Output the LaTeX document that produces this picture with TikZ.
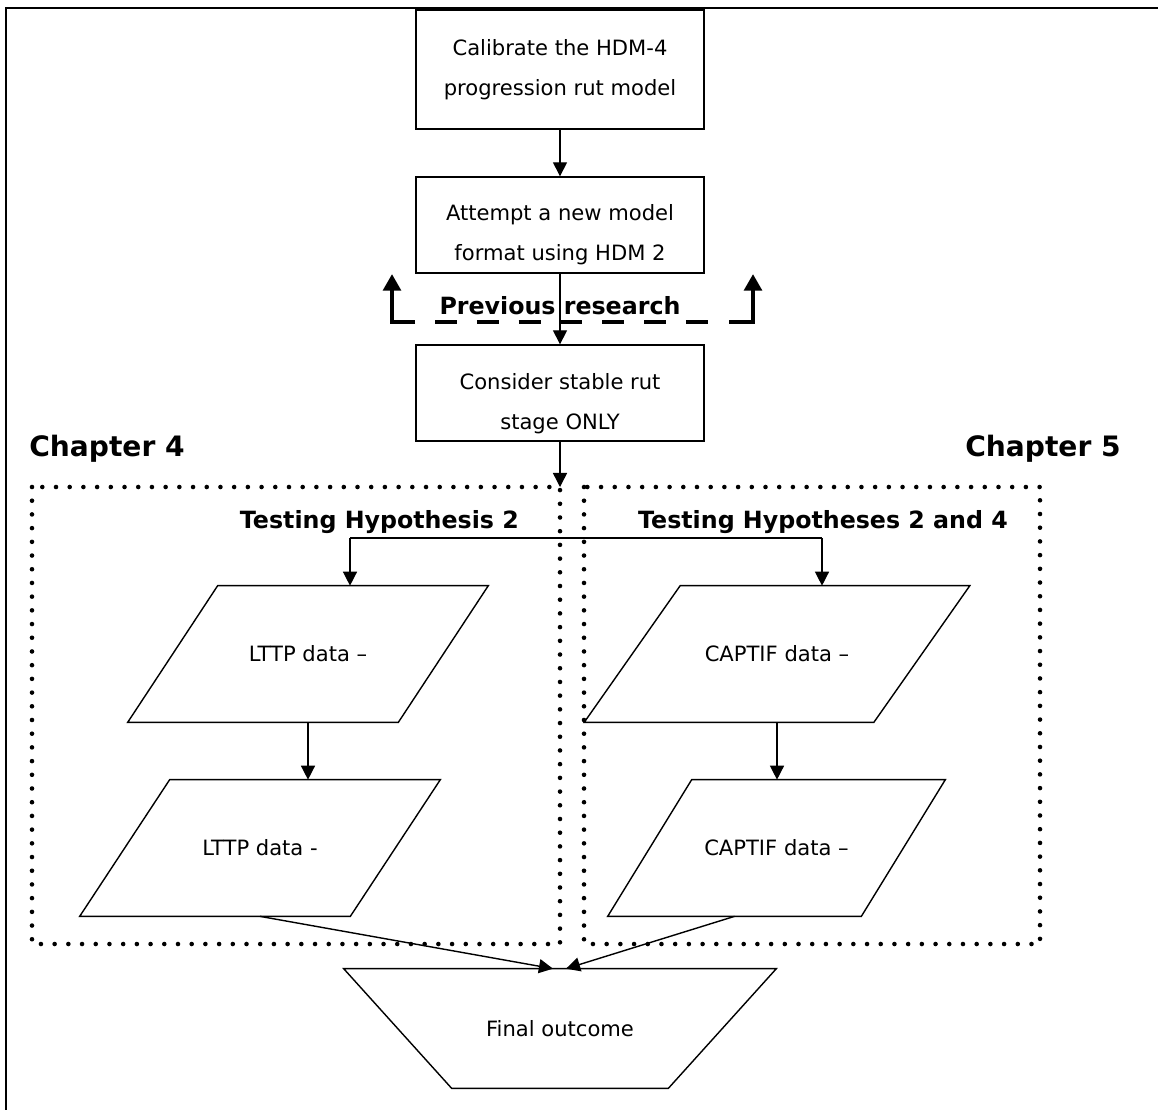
\documentclass[tikz,border=0pt]{standalone}
\usepackage{fontspec}
\setmainfont{DejaVu Sans}
\usetikzlibrary{arrows.meta}

% slanted outline round a (hidden) data node: #1 node name, #2 half of the slant
\newcommand{\paraframe}[2]{%
	\draw[line width=0.8pt] ([xshift=#2]#1.north west) -- ([xshift=#2]#1.north east)
		-- ([xshift=-#2]#1.south east) -- ([xshift=-#2]#1.south west) -- cycle;}

\begin{document}
\begin{tikzpicture}[x=0.02cm, y=-0.02cm, >={Triangle[width=8pt,length=8pt]}, font=\fontsize{12}{22.7}\selectfont]

	% ==========================================
	% 1. STYLES
	% ==========================================
	\tikzset{
		stepbox/.style={draw, line width=0.8pt, minimum width=5.76cm, align=center, inner sep=0pt},
		databox/.style={minimum height=2.72cm, inner sep=0pt},
		arr/.style={->, line width=0.8pt},
		dotbox/.style={line width=2.6pt, line cap=round, dash pattern=on 0pt off 7.8pt},
		prevline/.style={line width=2.7pt},
		prevtip/.style={-{Triangle[width=10pt,length=9.5pt]}},
		headlbl/.style={font=\fontsize{16}{19}\bfseries\selectfont},
		testlbl/.style={font=\fontsize{13.5}{16}\bfseries\selectfont}
	}

	\useasboundingbox (0,0) rectangle (1158,1110);

	% ==========================================
	% 2. FRAME
	% ==========================================
	\draw[line width=1.1pt] (1158,8) -- (6,8) -- (6,1110);

	% ==========================================
	% 3. TOP STEPS
	% ==========================================
	\node[stepbox, minimum height=2.38cm] (calib) at (560,69.5) {Calibrate the HDM-4\\progression rut model};
	\node[stepbox, minimum height=1.92cm] (attempt) at (560,225) {\rule{0pt}{20pt}Attempt a new model\\format using HDM 2};
	\node[stepbox, minimum height=1.92cm] (stable) at (560,393) {\rule{0pt}{21pt}Consider stable rut\\stage ONLY};

	% Dashed bracket "Previous research"
	\coordinate (prevla) at (392,274);
	\coordinate (prevlb) at (392,322);
	\coordinate (prevlc) at (415,322);
	\coordinate (prevmida) at (435,322);
	\coordinate (prevmidb) at (710,322);
	\coordinate (prevrc) at (729,322);
	\coordinate (prevrb) at (753,322);
	\coordinate (prevra) at (753,274);
	\draw[prevline, prevtip] (prevlc) -- (prevlb) -- (prevla);
	\draw[prevline, dash pattern=on 12.5pt off 11.3pt] (prevmida) -- (prevmidb);
	\draw[prevline, prevtip] (prevrc) -- (prevrb) -- (prevra);
	\node[testlbl] (prevlbl) at (560,306) {Previous research};

	\draw[arr] (calib) -- (attempt);
	\draw[arr] (attempt) -- (stable);

	% ==========================================
	% 4. CHAPTER FRAMES
	% ==========================================
	\node[headlbl] (ch4) at (107,449) {Chapter 4};
	\node[headlbl] (ch5) at (1043,449) {Chapter 5};

	\draw[dotbox] (32,487) rectangle (560,944);
	\draw[dotbox] (584,487) rectangle (1040,944);

	\coordinate (entry) at (560,487);
	\draw[arr] (stable) -- (entry);

	\node[testlbl, anchor=east] (testl) at (525,522) {Testing Hypothesis 2};
	\node[testlbl] (testr) at (823,522) {Testing Hypotheses 2 and 4};

	% ==========================================
	% 5. DATA SETS
	% ==========================================
	\node[databox, minimum width=5.4cm] (lttpa) at (308,654) {LTTP data –};
	\node[databox, minimum width=5.4cm] (lttpb) at (260,848) {LTTP data -};
	\node[databox, minimum width=5.78cm] (captifa) at (777,654) {CAPTIF data –};
	\node[databox, minimum width=5.06cm] (captifb) at (776.5,848) {CAPTIF data –};

	\paraframe{lttpa}{0.9cm}
	\paraframe{lttpb}{0.9cm}
	\paraframe{captifa}{0.96cm}
	\paraframe{captifb}{0.84cm}

	% Split towards both chapters
	\coordinate (splitl) at (350,538);
	\coordinate (splitr) at (822,538);
	\draw[line width=0.8pt] (splitl) -- (splitr);
	\draw[arr] (splitl) -- (splitl |- lttpa.north);
	\draw[arr] (splitr) -- (splitr |- captifa.north);

	\draw[arr] (lttpa.south) -- (lttpa.south |- lttpb.north);
	\draw[arr] (captifa.south) -- (captifa.south |- captifb.north);

	% ==========================================
	% 6. FINAL OUTCOME
	% ==========================================
	\node[minimum width=8.64cm, minimum height=2.38cm, inner sep=0pt] (final) at (560,1028.5) {Final outcome};
	\draw[line width=0.8pt] (final.north west) -- (final.north east)
		-- ([xshift=-2.16cm]final.south east) -- ([xshift=2.16cm]final.south west) -- cycle;

	\draw[arr] (lttpb.south) -- ([xshift=-0.14cm]final.north);
	\draw[arr] ([xshift=-0.84cm]captifb.south) -- ([xshift=0.12cm]final.north);

\end{tikzpicture}
\end{document}
